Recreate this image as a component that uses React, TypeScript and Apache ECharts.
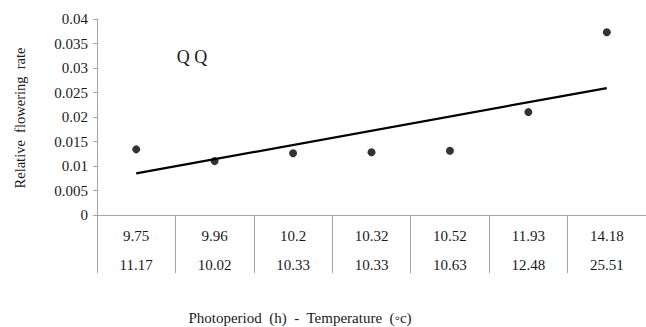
import React, { useEffect, useRef } from "react";
import * as echarts from "echarts";

const photoperiod = ["9.75", "9.96", "10.2", "10.32", "10.52", "11.93", "14.18"];
const temperature = ["11.17", "10.02", "10.33", "10.33", "10.63", "12.48", "25.51"];
const floweringRate = [0.0134, 0.0110, 0.0126, 0.0128, 0.0131, 0.0210, 0.0373];
const trendStart = 0.0085;
const trendEnd = 0.0259;
const yTicks = { min: 0, max: 0.04, interval: 0.005 };

const FONT = "Liberation Serif";
const AXIS_GREY = "#a6a6a6";
const TEXT = "#1a1a1a";

export default function App() {
  const ref = useRef<HTMLDivElement>(null);
  useEffect(() => {
    if (!ref.current) return;
    const chart = echarts.init(ref.current, undefined, { renderer: "svg" });
    const categories = photoperiod.map((p, i) => `${p}\n${temperature[i]}`);
    chart.setOption({
      animation: false,
      grid: { left: 97, right: -4, top: 19, bottom: 112, containLabel: false },
      xAxis: {
        type: "category",
        data: categories,
        boundaryGap: true,
        axisLine: { show: true, lineStyle: { color: AXIS_GREY, width: 1 } },
        axisTick: { show: true, interval: 0, length: 58, inside: false, lineStyle: { color: AXIS_GREY, width: 1 } },
        axisLabel: {
          interval: 0,
          margin: 6,
          fontFamily: FONT,
          fontSize: 15,
          color: TEXT,
          lineHeight: 29,
        },
        splitLine: { show: false },
      },
      yAxis: {
        type: "value",
        min: yTicks.min,
        max: yTicks.max,
        interval: yTicks.interval,
        axisLine: { show: true, lineStyle: { color: AXIS_GREY, width: 1 } },
        axisTick: { show: true, length: 4, lineStyle: { color: AXIS_GREY } },
        axisLabel: {
          margin: 9,
          fontFamily: FONT,
          fontSize: 15,
          color: TEXT,
          formatter: (v: number) => parseFloat(v.toFixed(3)).toString(),
        },
        splitLine: { show: false },
      },
      series: [
        {
          type: "line",
          data: [
            [0, trendStart],
            [photoperiod.length - 1, trendEnd],
          ],
          symbol: "none",
          lineStyle: { color: "#000", width: 2.2 },
          silent: true,
          z: 2,
        },
        {
          type: "scatter",
          data: floweringRate,
          symbol: "circle",
          symbolSize: 8,
          itemStyle: { color: "#000" },
          z: 3,
        },
      ],
      graphic: [
        {
          type: "text",
          x: 192,
          y: 57,
          style: {
            text: "Q Q",
            fontFamily: FONT,
            fontSize: 18,
            fill: TEXT,
            align: "center",
            verticalAlign: "middle",
          },
        },
        {
          type: "text",
          x: 20,
          y: 118,
          rotation: Math.PI / 2,
          style: {
            text: "Relative  flowering  rate",
            fontFamily: FONT,
            fontSize: 14.5,
            fill: TEXT,
            align: "center",
            verticalAlign: "middle",
          },
        },
        {
          type: "text",
          x: 300,
          y: 318,
          style: {
            text: "Photoperiod  (h)  -  Temperature  (◦c)",
            fontFamily: FONT,
            fontSize: 15,
            fill: TEXT,
            align: "center",
            verticalAlign: "middle",
          },
        },
      ],
    });
    return () => chart.dispose();
  }, []);
  return (
    <div
      ref={ref}
      style={{ position: "absolute", left: 0, top: 0, width: 646, height: 327, background: "#fff" }}
    />
  );
}
